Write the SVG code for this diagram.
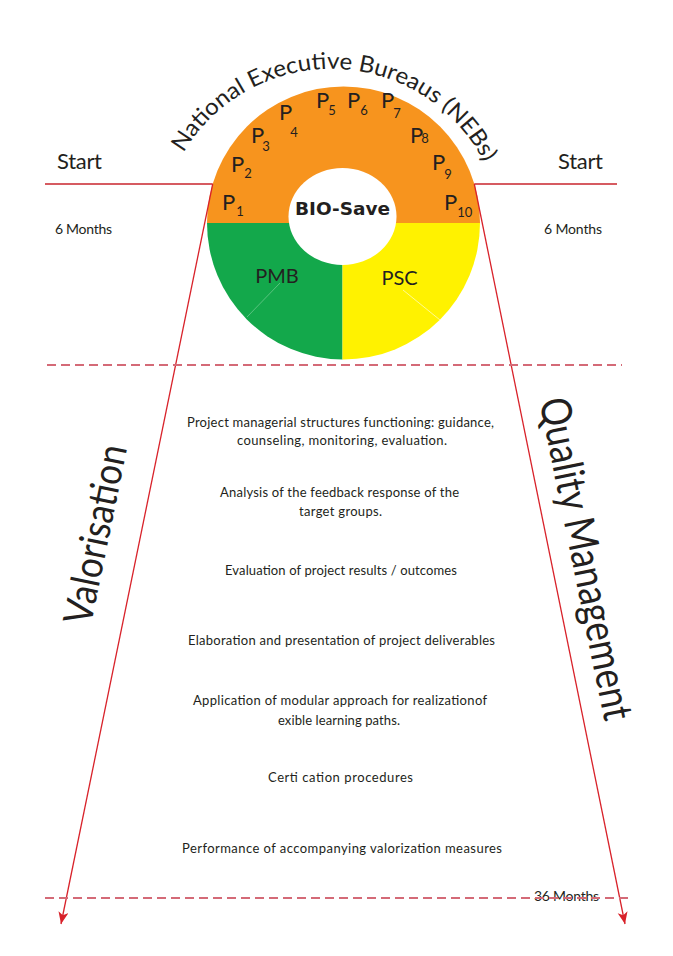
<svg xmlns="http://www.w3.org/2000/svg" width="673" height="956" viewBox="0 0 673 956">
<style>
  .t { font-family: Lato, "Open Sans", sans-serif; fill: #231F20; }
  .body { font-size: 13px; text-anchor: middle; }
  .p { font-size: 22px; }
  .red { stroke: #C9252C; stroke-width: 1.3; fill: none; }
  .arr { stroke: #D8222A; stroke-width: 1.3; fill: none; marker-end: url(#ah); }
  .dash { stroke: #D46A77; stroke-width: 1.8; stroke-dasharray: 9 5; fill: none; }
</style>
<defs>
  <marker id="ah" markerUnits="userSpaceOnUse" markerWidth="14" markerHeight="12" refX="12" refY="5" orient="auto">
    <path d="M0,0 L12,5 L0,10 L3,5 Z" fill="#D8222A"/>
  </marker>
  <path id="arc" d="M183.4,152.8 A172,172 0 0 1 484.6,163.3"/>
</defs>
<rect width="673" height="956" fill="#FFFFFF"/>

<g id="wheel">
  <path d="M207,223 A136.5,136.5 0 0 1 480,223 Z" fill="#F7941E"/>
  <path d="M207,223 L342.5,223 L342.5,359.5 A136.5,136.5 0 0 1 207,223 Z" fill="#13A84B"/>
  <path d="M342.5,223 L480,223 A136.5,136.5 0 0 1 342.5,359.5 Z" fill="#FFF200"/>
  <ellipse cx="342.5" cy="216.5" rx="54" ry="48.5" fill="#FFFFFF"/>
  <line x1="280" y1="283" x2="247" y2="317" stroke="#6CC98D" stroke-width="0.8"/>
  <line x1="403" y1="290" x2="440" y2="320" stroke="#FFFBB8" stroke-width="0.8"/>
  <text x="342.5" y="215" font-weight="bold" font-size="18" text-anchor="middle" textLength="95" lengthAdjust="spacingAndGlyphs" fill="#231F20" font-family="'DejaVu Sans', sans-serif">BIO-Save</text>
  <text class="t" x="277" y="283" font-size="20" text-anchor="middle">PMB</text>
  <text class="t" x="399.5" y="285" font-size="20" text-anchor="middle">PSC</text>
</g>

<g id="partners">
  <text class="t p" x="222" y="210">P<tspan font-size="13" dx="1" dy="6">1</tspan></text>
  <text class="t p" x="231" y="172">P<tspan font-size="13" dx="0" dy="6">2</tspan></text>
  <text class="t p" x="251" y="143">P<tspan font-size="13" dx="-2" dy="8">3</tspan></text>
  <text class="t p" x="279" y="120">P<tspan font-size="13" dx="-2" dy="17">4</tspan></text>
  <text class="t p" x="316" y="108">P<tspan font-size="13" dx="-1" dy="7">5</tspan></text>
  <text class="t p" x="347" y="108">P<tspan font-size="13" dx="0" dy="7">6</tspan></text>
  <text class="t p" x="381" y="108">P<tspan font-size="13" dx="-1" dy="10">7</tspan></text>
  <text class="t p" x="410" y="143">P<tspan font-size="13" dx="-2" dy="0">8</tspan></text>
  <text class="t p" x="432" y="170">P<tspan font-size="13" dx="-1" dy="9">9</tspan></text>
  <text class="t p" x="444" y="210">P<tspan font-size="13" dx="0" dy="7">10</tspan></text>
</g>

<g id="nebs">
  <text class="t" font-size="23"><textPath href="#arc" textLength="366" lengthAdjust="spacingAndGlyphs">National Executive Bureaus (NEBs)</textPath></text>
</g>

<g id="labels">
  <text class="t" x="57" y="169" font-size="22" textLength="45">Start</text>
  <text class="t" x="558" y="169" font-size="22" textLength="45">Start</text>
  <text class="t" x="55" y="234" font-size="14" textLength="57">6 Months</text>
  <text class="t" x="544" y="234" font-size="14" textLength="58">6 Months</text>
  <text class="t" x="534" y="901" font-size="14" textLength="65">36 Months</text>
  <text class="t" transform="translate(109,537) rotate(-78.4)" font-size="40" text-anchor="middle" textLength="182" lengthAdjust="spacingAndGlyphs">Valorisation</text>
  <text class="t" transform="translate(572,561.5) rotate(78.5)" font-size="42" text-anchor="middle" textLength="328" lengthAdjust="spacingAndGlyphs">Quality Management</text>
</g>

<g id="activities">
  <text class="t body" x="340.5" y="427" textLength="307">Project managerial structures functioning: guidance,</text>
  <text class="t body" x="342" y="445" textLength="210">counseling, monitoring, evaluation.</text>
  <text class="t body" x="339.5" y="497" textLength="239">Analysis of the feedback response of the</text>
  <text class="t body" x="340.5" y="516" textLength="83">target groups.</text>
  <text class="t body" x="341" y="575" textLength="232">Evaluation of project results / outcomes</text>
  <text class="t body" x="341.5" y="645" textLength="307">Elaboration and presentation of project deliverables</text>
  <text class="t body" x="340" y="705" textLength="294">Application of modular approach for realizationof</text>
  <text class="t body" x="339" y="725" textLength="122">exible learning paths.</text>
  <text class="t body" x="340.5" y="782" textLength="145">Certi cation procedures</text>
  <text class="t body" x="342" y="853" textLength="320">Performance of accompanying valorization measures</text>
</g>

<g id="connectors">
  <line class="red" x1="45" y1="184" x2="212.7" y2="184"/>
  <line class="red" x1="474.3" y1="184" x2="617" y2="184"/>
  <line class="arr" x1="212.7" y1="184" x2="61" y2="924"/>
  <line class="arr" x1="474.3" y1="184" x2="625" y2="924"/>
  <line class="dash" x1="47" y1="365" x2="622" y2="365"/>
  <line class="dash" x1="45" y1="898" x2="630" y2="898"/>
</g>
</svg>
